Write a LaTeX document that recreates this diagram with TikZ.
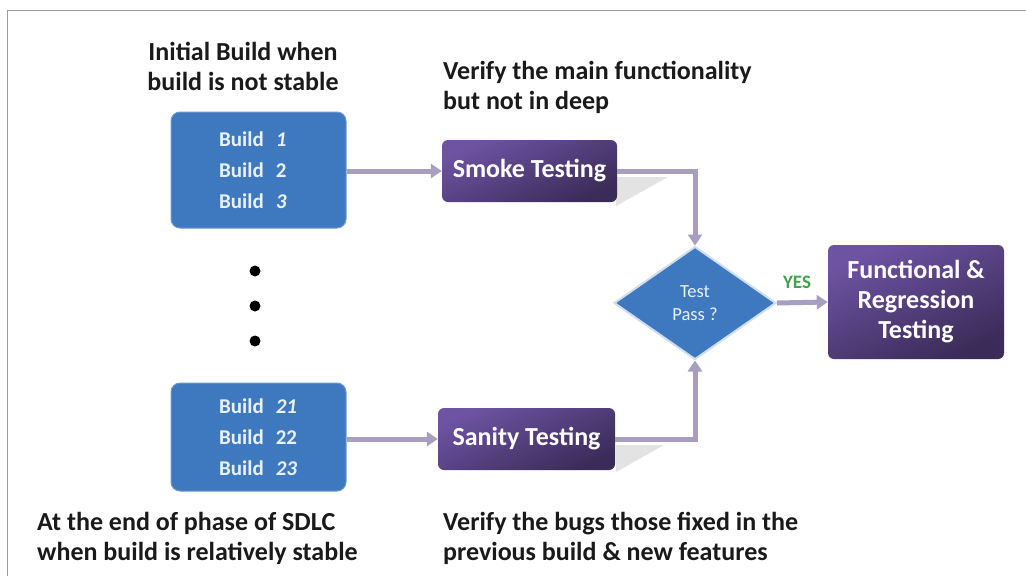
\documentclass[tikz,border=0pt]{standalone}
\usepackage{fontspec}
\setmainfont{Carlito}
\usetikzlibrary{arrows.meta,shapes.geometric,calc}

\definecolor{buildblue}{HTML}{3E79C0}
\definecolor{buildtext}{HTML}{E8F0FA}
\definecolor{plum}{HTML}{6E53A3}
\definecolor{plumdark}{HTML}{3B2B58}
\definecolor{flow}{HTML}{A89EC0}
\definecolor{yesgreen}{HTML}{3FA34D}
\definecolor{framegray}{HTML}{9C9C9C}
\definecolor{notetext}{HTML}{1A1A1A}

\begin{document}
\begin{tikzpicture}[x=1pt,y=-1pt,
  buildbox/.style={rounded corners=9pt, fill=buildblue, draw=buildblue!75!white,
    line width=1pt, minimum width=175pt, inner sep=0pt, text=buildtext,
    font=\bfseries\fontsize{21}{31}\selectfont, align=center},
  testbox/.style={rounded corners=6pt, top color=plum, bottom color=plumdark,
    shading angle=25, inner sep=0pt, text=white,
    font=\bfseries\fontsize{26}{30}\selectfont, align=center},
  decision/.style={diamond, aspect=1.43, minimum width=162pt, minimum height=113pt,
    inner sep=0pt, fill=buildblue, draw=buildblue!25!white, line width=2pt,
    text=buildtext, font=\fontsize{18.5}{23}\selectfont, align=center},
  note/.style={text=notetext, font=\bfseries\fontsize{26}{30}\selectfont, inner sep=0pt},
  flowarrow/.style={draw=flow, line width=5pt,
    -{Triangle[length=11pt,width=14pt]}},
  shadowtri/.style={fill=black!11},
  dot/.style={circle, fill=black, minimum size=11pt, inner sep=0pt},
]
\useasboundingbox (0,0) rectangle (1026,576);
\fill[white] (0,0) rectangle (1026,576);

% frame edges
\draw[framegray, line width=1.5pt] (1026,10.5) -- (7.5,10.5) -- (7.5,576);

% build groups
\node[buildbox, minimum height=116pt] (b1) at (258.5,170)
  {Build\hspace{12pt}\makebox[22pt][l]{\textit{1}}\\
   Build\hspace{12pt}\makebox[22pt][l]{2}\\
   Build\hspace{12pt}\makebox[22pt][l]{\textit{3}}};
\node[buildbox, minimum height=108pt] (b2) at (258.5,437)
  {Build\hspace{12pt}\makebox[22pt][l]{\textit{21}}\\
   Build\hspace{12pt}\makebox[22pt][l]{22}\\
   Build\hspace{12pt}\makebox[22pt][l]{\textit{23}}};

% dots between the groups
\node[dot] (d1) at (255,271) {};
\node[dot] (d2) at (255,306) {};
\node[dot] (d3) at (255,341) {};

% drop shadows of the test boxes
\fill[shadowtri] (616,177) -- (668,177) -- (616,206) -- cycle;
\fill[shadowtri] (616,445) -- (664,445) -- (616,472) -- cycle;

% test boxes
\node[testbox, minimum width=175pt, minimum height=62pt] (smoke) at (529.5,171) {Smoke Testing};
\node[testbox, minimum width=177pt, minimum height=62pt] (sanity) at (526.5,439) {Sanity Testing};
\node[testbox, minimum width=176pt, minimum height=114pt] (func) at (916,302)
  {Functional \&\\Regression\\Testing};

% decision
\node[decision] (pass) at (695,303) {Test\\Pass ?};

% connectors
\draw[flowarrow] (b1.east |- smoke.west) -- (smoke.west);
\draw[flowarrow] (b2.east |- sanity.west) -- (sanity.west);
\draw[flowarrow] (smoke.east) -| (pass.north);
\draw[flowarrow] (sanity.east) -| (pass.south);
\draw[flowarrow] (pass.east) -- (func.west);
\node[text=yesgreen, font=\bfseries\fontsize{19}{20}\selectfont] (yes) at (797,282) {YES};

% notes
\node[note, align=center] (n1) at (243,66) {Initial Build when\\build is not stable};
\node[note, align=left, anchor=west] (n2) at (443,87) {Verify the main functionality\\but not in deep};
\node[note, align=left, anchor=west] (n3) at (37,538) {At the end of phase of SDLC\\when build is relatively stable};
\node[note, align=left, anchor=west] (n4) at (443,538) {Verify the bugs those fixed in the\\previous build \& new features};
\end{tikzpicture}
\end{document}
